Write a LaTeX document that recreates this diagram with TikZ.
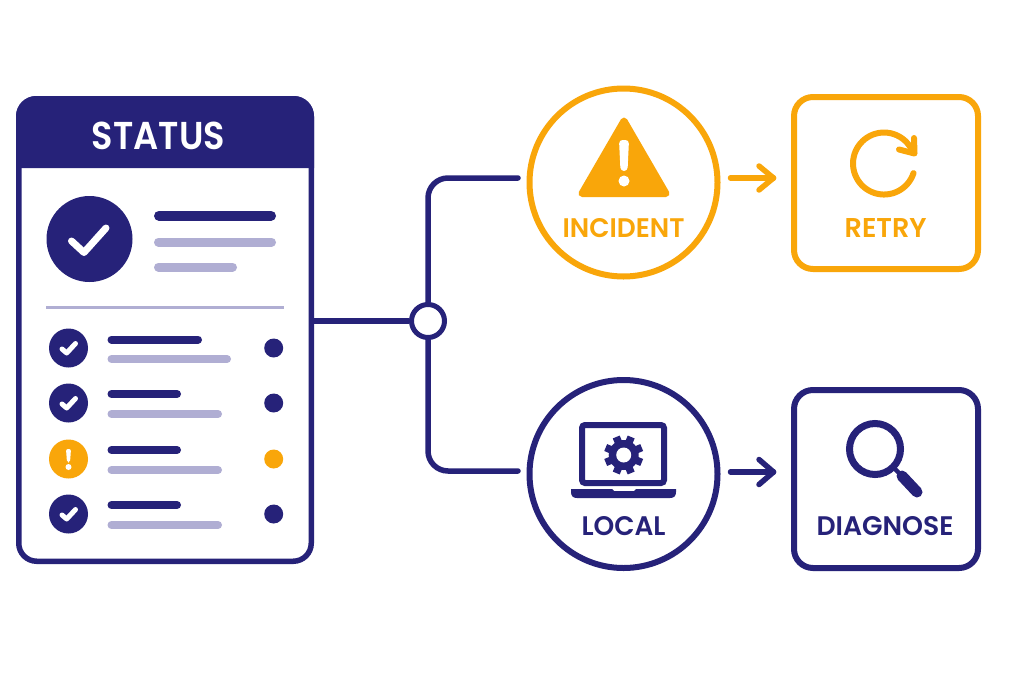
\documentclass[tikz,border=0pt]{standalone}
\usepackage{fontspec}
\usepackage{graphicx}
\setmainfont{Poppins SemiBold}
\definecolor{navy}{HTML}{262279}
\definecolor{amber}{HTML}{F9A60A}
\definecolor{lilac}{HTML}{B0AED3}
\newcommand{\lbl}[3]{\resizebox{#1pt}{#2pt}{#3}}
\tikzset{
  wire/.style={draw=navy,line width=5.5pt,line cap=round},
  arrowline/.style={line width=5.5pt,line cap=round,line join=round},
  dk/.style={line width=#1,draw=navy,line cap=round},
  lt/.style={line width=#1,draw=lilac,line cap=round},
  ring/.style={circle,draw=#1,line width=6pt,fill=white,minimum size=188pt,inner sep=0pt},
  sq/.style={rectangle,draw=#1,line width=6pt,fill=white,rounded corners=19pt,inner sep=0pt},
  badge/.style={circle,fill=#1,minimum size=39pt,inner sep=0pt},
  dotnode/.style={circle,fill=#1,minimum size=19pt,inner sep=0pt},
  caption/.style={inner sep=0pt},
  tick/.style={draw=white,line cap=round,line join=round,line width=#1}
}
\begin{document}
\begin{tikzpicture}[x=1pt,y=-1pt]
\useasboundingbox (0,0) rectangle (1024,683);
\fill[white] (0,0) rectangle (1024,683);
% card
\node[rectangle,draw=navy,line width=5.5pt,fill=white,rounded corners=18pt,minimum width=292.5pt,minimum height=462.5pt,inner sep=0pt] (card) at (165,330) {};
\fill[navy] (16,168) -- (16,116) arc[start angle=180,end angle=90,radius=20pt] -- (294,96) arc[start angle=90,end angle=0,radius=20pt] -- (314,168) -- cycle;
\node[caption,text=white] (status) at (158.5,136) {\lbl{133}{27.5}{STATUS}};
% summary
\node[circle,fill=navy,minimum size=86pt,inner sep=0pt] (big) at (89.5,239) {};
\draw[tick=7pt] (71.5,241) -- (84,252.5) -- (106,228);
\draw[dk=10pt] (159,215.7) -- (271,215.7);
\draw[lt=9pt] (158.5,242) -- (271.5,242);
\draw[lt=9pt] (158.5,267) -- (232.5,267);
\draw[draw=lilac,line width=3pt] (46,307.7) -- (284,307.7);
% rows
\foreach \ya/\xa/\yb/\xb in {339.5/198/359/227,394/177/414/218,450/177/470/218,505/177/525/218}{
  \draw[dk=8pt] (111.5,\ya) -- (\xa,\ya);
  \draw[lt=8pt] (111.5,\yb) -- (\xb,\yb);
}
\node[badge=navy] (b1) at (68.5,348) {};
\node[badge=navy] (b2) at (68.5,403) {};
\node[badge=amber] (b3) at (68.5,459) {};
\node[badge=navy] (b4) at (68.5,514) {};
\foreach \yy in {348,403,514}{
  \draw[tick=5pt] (62,\yy+1) -- (66.7,\yy+5) -- (75.5,\yy-4.5);
}
\fill[white,rounded corners=2pt] (66,449) -- (71,449) -- (70,462.5) -- (67,462.5) -- cycle;
\fill[white] (68.5,467) circle[radius=3pt];
\node[dotnode=navy] (d1) at (273.7,348) {};
\node[dotnode=navy] (d2) at (273.7,403) {};
\node[dotnode=amber] (d3) at (273.7,459) {};
\node[dotnode=navy] (d4) at (273.7,514) {};
% connectors
\node[circle,draw=navy,line width=5pt,fill=white,minimum size=33pt,inner sep=0pt] (hub) at (428,321) {};
\coordinate (endup) at (518,178);
\coordinate (enddown) at (518,471);
\draw[wire,rounded corners=20pt] (hub.north) |- (endup);
\draw[wire,rounded corners=20pt] (hub.south) |- (enddown);
\draw[wire,line cap=butt] (card.east |- hub.west) -- (hub.west);
% incident
\node[ring=amber] (incident) at (623.5,182.5) {};
\fill[amber,draw=amber,line width=7pt,line join=round] (624,121) -- (666,193.5) -- (582,193.5) -- cycle;
\fill[white,rounded corners=3.5pt] (619,140) -- (629,140) -- (627.5,171) -- (620.5,171) -- cycle;
\fill[white] (624,181) circle[radius=5.5pt];
\node[caption,text=amber] (incidentlabel) at (623.5,227.7) {\lbl{122}{19}{INCIDENT}};
% retry
\node[sq=amber,minimum width=184pt,minimum height=172pt] (retry) at (886,183) {};
\draw[draw=amber,line width=6pt,line cap=round] (913.5,173.1) arc[start angle=-18,end angle=-338,radius=31pt];
\draw[draw=amber,line width=6pt,line cap=round,line join=round] (914,138) -- (914.5,153.5) -- (899,149.5);
\node[caption,text=amber] (retrylabel) at (885.7,227.7) {\lbl{82}{19}{RETRY}};
\coordinate (a1s) at (730.5,178);
\coordinate (a1e) at (773.5,178);
\draw[draw=amber,arrowline] (a1s) -- (a1e);
\draw[draw=amber,arrowline] (759,166) -- (a1e) -- (759,190);
% local
\node[ring=navy] (local) at (623.5,474) {};
\draw[draw=navy,line width=6pt,rounded corners=3pt,fill=white] (582,425) rectangle (664,483);
\fill[navy] (571,489) -- (612,489) -- (614,491) -- (634,491) -- (636,489) -- (676,489) -- (676,492) .. controls (676,496) and (674,498) .. (670,498) -- (577,498) .. controls (573,498) and (571,496) .. (571,492) -- cycle;
\coordinate (gear) at (623.7,455);
\foreach \a in {0,45,...,315}{
  \draw[draw=navy,line width=7.5pt] (gear) -- ++(\a+22.5:19.5pt);
}
\fill[navy] (gear) circle[radius=15pt];
\fill[white] (gear) circle[radius=7.5pt];
\node[caption,text=navy] (locallabel) at (623.5,526) {\lbl{84}{19}{LOCAL}};
% diagnose
\node[sq=navy,minimum width=184pt,minimum height=178pt] (diagnose) at (886,479) {};
\draw[draw=navy,line width=7pt] (875,449) circle[radius=25.5pt];
\draw[draw=navy,line width=4.5pt] (893,467) -- (903,477);
\draw[draw=navy,line width=11pt,line cap=round] (902,476) -- (917,492);
\node[caption,text=navy] (diagnoselabel) at (885,526) {\lbl{137}{19}{DIAGNOSE}};
\coordinate (a2s) at (730.5,472);
\coordinate (a2e) at (773.5,472);
\draw[draw=navy,arrowline] (a2s) -- (a2e);
\draw[draw=navy,arrowline] (759,459.5) -- (a2e) -- (759,484.5);
\end{tikzpicture}
\end{document}
